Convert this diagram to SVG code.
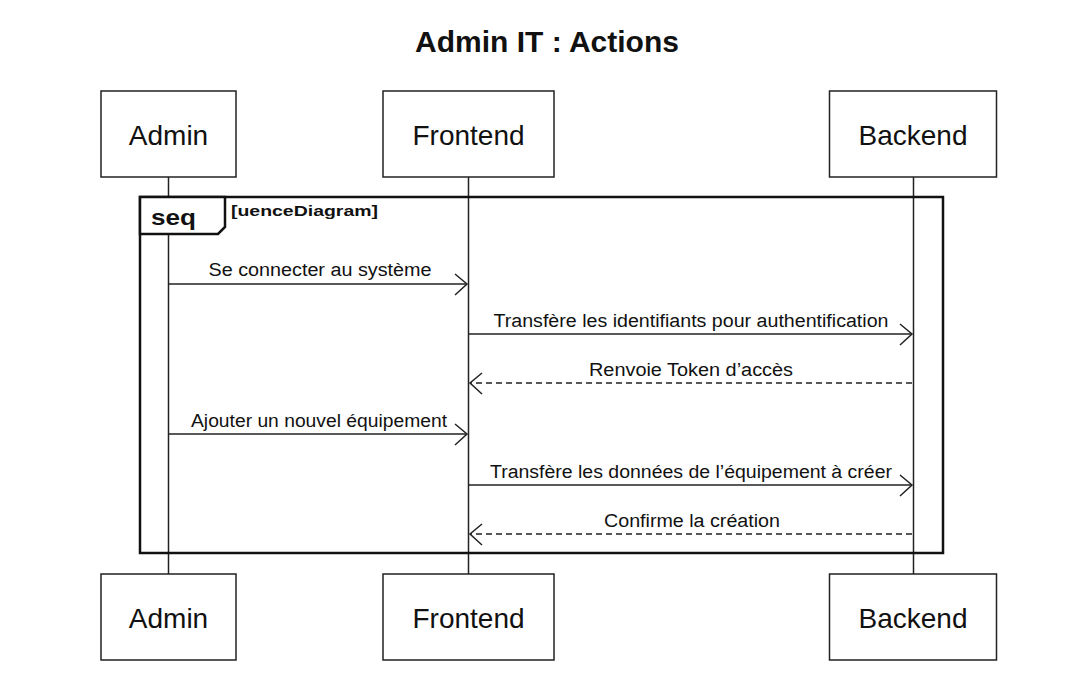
<svg xmlns="http://www.w3.org/2000/svg" width="1086" height="673" viewBox="0 0 1086 673">
<defs>
<style>
.box{fill:#fff;stroke:#222;stroke-width:1.5}
.life{stroke:#222;stroke-width:1.5;fill:none}
.pt{font-family:"Liberation Sans",Arial,sans-serif;font-size:28px;fill:#111;text-anchor:middle}
.msg{stroke:#222;stroke-width:1.5;fill:none}
.dash{stroke-dasharray:6,4}
.head{stroke:#222;stroke-width:1.5;fill:none}
.lbl{font-family:"Liberation Sans",Arial,sans-serif;font-size:18px;fill:#111;text-anchor:middle}
.frame{fill:none;stroke:#111;stroke-width:2.5}
</style>
</defs>
<rect width="1086" height="673" fill="#fff"/>
<text x="547" y="52" font-family="Liberation Sans, Arial, sans-serif" font-size="30" font-weight="bold" text-anchor="middle" fill="#111">Admin IT : Actions</text>
<g id="lifelines">
<line class="life" x1="168.5" y1="177" x2="168.5" y2="574"/>
<line class="life" x1="468.5" y1="177" x2="468.5" y2="574"/>
<line class="life" x1="913.5" y1="177" x2="913.5" y2="574"/>
</g>
<g id="frame">
<rect class="frame" x="140" y="197" width="803" height="356"/>
<path d="M140 197 H225 V227 L218 234 H140 Z" fill="#fff" stroke="#111" stroke-width="2.5"/>
<text x="151" y="225" font-family="Liberation Sans, Arial, sans-serif" font-size="22" font-weight="bold" fill="#111" textLength="45" lengthAdjust="spacingAndGlyphs">seq</text>
<text x="231" y="216" font-family="Liberation Sans, Arial, sans-serif" font-size="15" font-weight="bold" fill="#111" textLength="147" lengthAdjust="spacingAndGlyphs">[uenceDiagram]</text>
</g>
<g id="admin-top"><rect class="box" x="101" y="91" width="135" height="86"/><text class="pt" x="168.5" y="145">Admin</text></g>
<g id="frontend-top"><rect class="box" x="383" y="91" width="171" height="86"/><text class="pt" x="468.5" y="145">Frontend</text></g>
<g id="backend-top"><rect class="box" x="829.5" y="91" width="167" height="86"/><text class="pt" x="913" y="145">Backend</text></g>
<g id="admin-bottom"><rect class="box" x="101" y="574" width="135" height="86"/><text class="pt" x="168.5" y="628">Admin</text></g>
<g id="frontend-bottom"><rect class="box" x="383" y="574" width="171" height="86"/><text class="pt" x="468.5" y="628">Frontend</text></g>
<g id="backend-bottom"><rect class="box" x="829.5" y="574" width="167" height="86"/><text class="pt" x="913" y="628">Backend</text></g>
<g id="connectors">
<line class="msg" x1="169" y1="284" x2="467" y2="284"/>
<path class="head" d="M455 274 L467 284 L455 295"/>
<text class="lbl" x="320" y="276" textLength="223" lengthAdjust="spacingAndGlyphs">Se connecter au système</text>

<line class="msg" x1="469" y1="334" x2="912" y2="334"/>
<path class="head" d="M900 324 L912 334 L900 345"/>
<text class="lbl" x="691" y="327" textLength="395" lengthAdjust="spacingAndGlyphs">Transfère les identifiants pour authentification</text>

<line class="msg dash" x1="912" y1="383" x2="470" y2="383"/>
<path class="head" d="M482 373 L470 383 L482 394"/>
<text class="lbl" x="691" y="376" textLength="204" lengthAdjust="spacingAndGlyphs">Renvoie Token d’accès</text>

<line class="msg" x1="169" y1="434" x2="467" y2="434"/>
<path class="head" d="M455 424 L467 434 L455 445"/>
<text class="lbl" x="319" y="427" textLength="256" lengthAdjust="spacingAndGlyphs">Ajouter un nouvel équipement</text>

<line class="msg" x1="469" y1="485" x2="912" y2="485"/>
<path class="head" d="M900 475 L912 485 L900 496"/>
<text class="lbl" x="691" y="478" textLength="402" lengthAdjust="spacingAndGlyphs">Transfère les données de l’équipement à créer</text>

<line class="msg dash" x1="912" y1="534" x2="470" y2="534"/>
<path class="head" d="M482 524 L470 534 L482 545"/>
<text class="lbl" x="692" y="527" textLength="176" lengthAdjust="spacingAndGlyphs">Confirme la création</text>
</g>
</svg>
